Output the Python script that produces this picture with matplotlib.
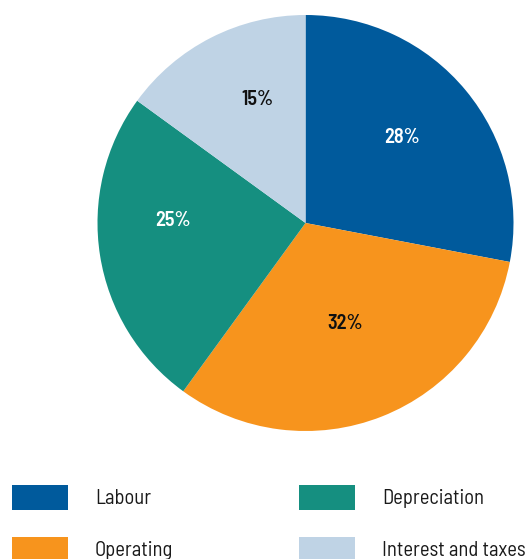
import matplotlib
matplotlib.use("Agg")
import matplotlib.pyplot as plt
from matplotlib.patches import Rectangle
from matplotlib import font_manager
from matplotlib.transforms import offset_copy
import numpy as np

labels = ["Labour", "Operating", "Depreciation", "Interest and taxes"]
values = [28, 32, 25, 15]
colors = ["#005a9c", "#f7941d", "#158f80", "#bfd3e5"]
text_colors = ["white", "#111111", "white", "#111111"]
label_r = [0.625, 0.51, 0.64, 0.645]
label_dtheta = [3, 0, -11, -6]

names = {f.name for f in font_manager.fontManager.ttflist}
cands = ["Barlow Semi Condensed", "Roboto Condensed", "Barlow", "Archivo Narrow",
         "PT Sans Narrow", "Liberation Sans Narrow"]
main = next((c for c in cands if c in names), None)
fam = [main, "DejaVu Sans"] if main else ["DejaVu Sans"]

W, H = 532, 559
fig = plt.figure(figsize=(W / 100, H / 100), dpi=100)
cx, cy, R = 305.5, 223, 208
ax = fig.add_axes([(cx - R) / W, (H - cy - R) / H, 2 * R / W, 2 * R / H])
wedges, _ = ax.pie(values, colors=colors, startangle=90, counterclock=False,
                   radius=1, wedgeprops=dict(linewidth=0))
ax.set_xlim(-1, 1)
ax.set_ylim(-1, 1)
ax.set_aspect("equal")
ax.axis("off")

tr = offset_copy(ax.transData, fig=fig, x=0.5, y=-2, units="dots")
for w, v, tc, r, dt in zip(wedges, values, text_colors, label_r, label_dtheta):
    mid = np.deg2rad((w.theta1 + w.theta2) / 2 + dt)
    ax.text(r * np.cos(mid), r * np.sin(mid), f"{v}%", ha="center", va="center",
            color=tc, fontsize=14.5, fontweight="semibold", family=fam, transform=tr)

# legend
sq_x = [12, 299]
txt_x = [95, 382]
row_y = [497.5, 549.5]
for i, (lab, col) in enumerate(zip(labels, colors)):
    c, rr = i // 2, i % 2
    x0 = sq_x[c]
    y0 = row_y[rr]
    fig.add_artist(Rectangle((x0 / W, (H - y0 - 12.5) / H), 56 / W, 25 / H,
                             transform=fig.transFigure, color=col, lw=0))
    fig.text(txt_x[c] / W, (H - y0 - 1) / H, lab, ha="left", va="center",
             fontsize=14.8, color="#1a1a1a", family=fam)

fig.savefig("out.png", dpi=100)
